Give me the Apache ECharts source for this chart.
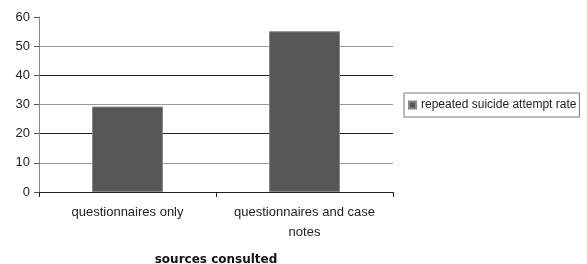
<!DOCTYPE html>
<html>
<head>
<meta charset="utf-8">
<script src="https://cdn.jsdelivr.net/npm/echarts@6/dist/echarts.min.js"></script>
<style>
  html, body { margin: 0; padding: 0; background: #fff; }
  #chartContainer { width: 587px; height: 264px; }
</style>
</head>
<body>
<div id="chartContainer"></div>
<script>
// Datos del gráfico
const categories = ['questionnaires only', 'questionnaires and case\nnotes'];
const rateValues = [29.3, 55.1];
const seriesName = 'repeated suicide attempt rate';
const axisTitle = 'sources consulted';

const chartInstance = echarts.init(document.getElementById('chartContainer'));

const option = {
    animation: false,
    textStyle: { fontFamily: 'Liberation Sans, Arial, sans-serif' },
    grid: { left: 39, right: 194, top: 17, bottom: 72, containLabel: false, outerBoundsMode: 'none' },
    legend: {
        left: 404,
        top: 93,
        orient: 'vertical',
        data: [seriesName],
        icon: 'rect',
        itemWidth: 7,
        itemHeight: 7,
        itemGap: 0,
        padding: [6, 3, 6, 4],
        borderColor: '#777',
        borderWidth: 1,
        backgroundColor: '#fff',
        textStyle: { fontSize: 12, color: '#222' }
    },
    xAxis: {
        type: 'category',
        data: categories,
        name: axisTitle,
        nameLocation: 'middle',
        nameGap: 62,
        nameTextStyle: { fontSize: 12, fontWeight: 'bold', color: '#111', fontFamily: 'DejaVu Sans' },
        axisLine: { lineStyle: { color: '#222', width: 1 } },
        axisTick: { show: true, length: 5, lineStyle: { color: '#222' } },
        axisLabel: { interval: 0, hideOverlap: false, fontSize: 13, color: '#222', margin: 10, lineHeight: 20 }
    },
    yAxis: {
        type: 'value',
        min: 0,
        max: 60,
        interval: 10,
        axisLine: { show: true, lineStyle: { color: '#888', width: 1 } },
        axisTick: { show: true, length: 5, lineStyle: { color: '#555' } },
        axisLabel: { fontSize: 13, color: '#222', margin: 9 },
        splitLine: {
            show: true,
            showMaxLine: false,
            lineStyle: { color: ['#222', '#999', '#222', '#999', '#222', '#999'], width: 1 }
        }
    },
    series: [
        {
            name: seriesName,
            type: 'bar',
            data: rateValues,
            barWidth: 71,
            itemStyle: { color: '#57575a', borderColor: '#888', borderWidth: 1 }
        }
    ]
};

chartInstance.setOption(option);
</script>
</body>
</html>
